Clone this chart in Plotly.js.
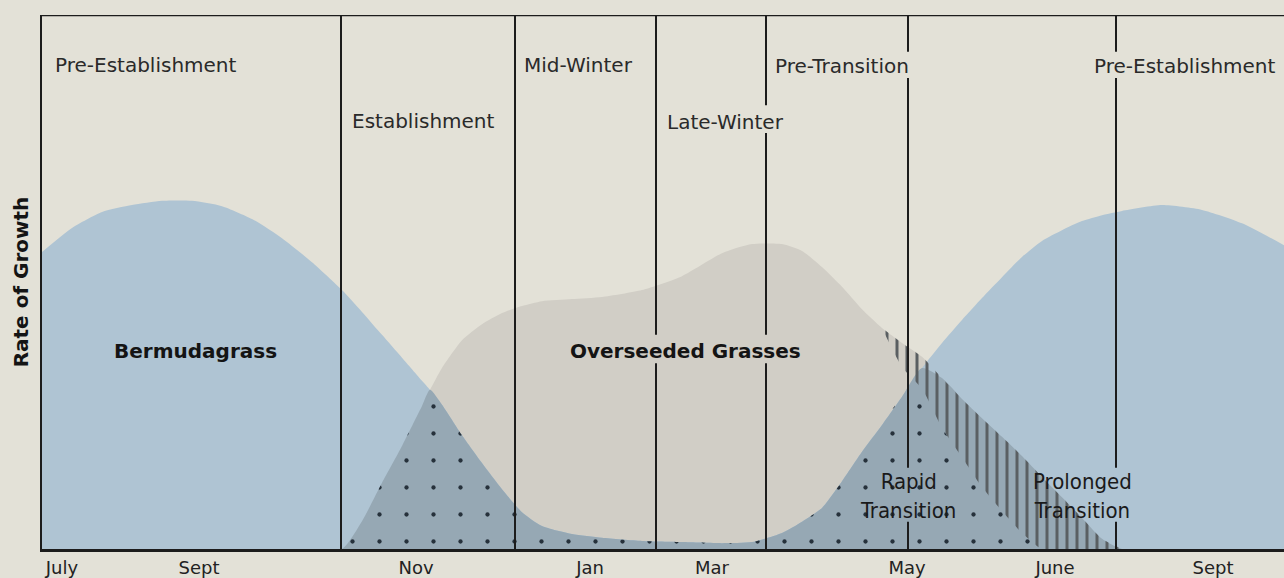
<!DOCTYPE html>
<html>
<head>
<meta charset="utf-8">
<script src="https://cdn.plot.ly/plotly-3.0.1.min.js"></script>
<style>html,body{margin:0;padding:0;background:#e3e1d7;}#chart{width:1284px;height:578px;}</style>
</head>
<body>
<div id="chart"></div>
<script>
// ---- data (x in weeks from early July; y = relative rate of growth) ----
const weeks = [0,1.5,3,4.5,6,7.5,9,10.5,12,13.5,15,16,17,18,19,19.4,20,21,22,23,24,25,26.5,28,30,32,34,35.5,37,38,39,40,41,42,43,44,45,46,47,48,49,50,51,52,53,54,56,58,60,62.1];
const bermudagrass = [55.6,60.1,63.1,64.4,65.2,65.2,64.2,61.8,58.2,53.7,48.5,44.4,40.1,35.8,31.5,29.8,27.0,21.3,16.1,11.2,6.9,4.3,2.8,2.1,1.5,1.3,1.1,1.3,3.0,5.1,7.7,12.7,18.2,23.2,28.5,33.9,38.6,42.9,47.0,50.9,54.7,57.7,59.7,61.4,62.5,63.3,64.4,63.5,61.0,56.9];
const overseededProlonged = [0,0,0,0,0,0,0,0,0,0,0,5.2,12.4,19.3,26.8,29.8,33.9,39.1,42.1,44.2,45.5,46.4,46.8,47.2,48.5,51.1,55.4,57.1,57.1,55.8,52.8,49.1,44.9,41.4,38.6,36.0,32.0,28.1,24.5,21.0,17.4,13.5,9.7,5.8,1.9,0,0,0,0,0];
const rapidWeeks = [42,43,44,45,46,47,48,49,50,51,52,53,54];
const rapidTail = [41.4,34.1,30.0,22.7,17.2,11.6,7.1,3.0,0,0,0,0,0];

const tickWeeks = [1.0,7.85,18.7,27.4,33.5,43.25,50.65,58.55];
const tickNames = ['July','Sept','Nov','Jan','Mar','May','June','Sept'];

const phaseBounds = [14.95,23.65,30.7,36.2,43.3,53.7];
const phaseGaps = [[],[],[[34.8,40.1]],[[34.8,40.1],[77.9,83.1]],[[5.1,15.2],[88.2,93.1]],[[5.1,15.2],[88.2,93.1]]];

const phaseNames = ['Pre-Establishment','Establishment','Mid-Winter','Late-Winter','Pre-Transition','Pre-Establishment'];
const phaseNameX = [0.55,15.4,24.0,31.15,36.55,52.5];
const phaseNameY = [90.6,80.1,90.6,80.0,90.4,90.4];

// ---- styles ----
const BG = '#e3e1d7', BLUE = '#afc4d3', GRAY = '#d1cec6', OVER = '#96a8b4', INK = '#1c1c1c';
const SANS = 'DejaVu Sans, Liberation Sans, Arial, sans-serif';

// derived series
const rapidScenario = weeks.map((w,i) => { const k = rapidWeeks.indexOf(w); return k >= 0 ? rapidTail[k] : overseededProlonged[i]; });
const overlap = weeks.map((w,i) => Math.min(bermudagrass[i], overseededProlonged[i]));
const dotted = weeks.map((w,i) => Math.min(bermudagrass[i], rapidScenario[i]));
const tailIdx = weeks.map((w,i) => i).filter(i => weeks[i] >= rapidWeeks[0] && weeks[i] <= rapidWeeks[rapidWeeks.length-1]);

const sp = {shape:'spline', smoothing:0.6, width:0};
const traces = [
  {x:weeks, y:overseededProlonged, mode:'lines', fill:'tozeroy', fillcolor:GRAY, line:Object.assign({color:GRAY},sp), hoverinfo:'skip', name:'Overseeded Grasses'},
  {x:weeks, y:bermudagrass, mode:'lines', fill:'tozeroy', fillcolor:BLUE, line:Object.assign({color:BLUE},sp), hoverinfo:'skip', name:'Bermudagrass'},
  {x:weeks, y:overlap, mode:'lines', fill:'tozeroy', fillcolor:OVER, line:Object.assign({color:OVER},sp), hoverinfo:'skip', name:'overlap'},
  {x:weeks, y:dotted, mode:'lines', fill:'tozeroy', fillcolor:'rgba(0,0,0,0)', line:Object.assign({color:'rgba(0,0,0,0)'},sp), hoverinfo:'skip', name:'Rapid Transition',
   fillpattern:{shape:'.', size:27, solidity:0.02, fgcolor:'#26313b', bgcolor:'rgba(0,0,0,0)'}},
  {x:rapidWeeks, y:rapidTail, mode:'lines', line:Object.assign({color:'rgba(0,0,0,0)'},sp), hoverinfo:'skip', name:'rapid'},
  {x:tailIdx.map(i=>weeks[i]), y:tailIdx.map(i=>overseededProlonged[i]), mode:'lines', fill:'tonexty', fillcolor:'rgba(0,0,0,0)', line:Object.assign({color:'rgba(0,0,0,0)'},sp), hoverinfo:'skip', name:'Prolonged Transition',
   fillpattern:{shape:'|', size:10, solidity:0.3, fgcolor:'#5a5f62', bgcolor:'rgba(0,0,0,0)'}}
];

// vertical phase lines (split where labels cross them)
const shapes = [];
phaseBounds.forEach((xb, i) => {
  let y0 = 0;
  const gaps = phaseGaps[i].slice().sort((a,b)=>a[0]-b[0]);
  gaps.forEach(g => { shapes.push({type:'line', xref:'x', yref:'y', x0:xb, x1:xb, y0:y0, y1:g[0], line:{color:INK, width:2}, layer:'above'}); y0 = g[1]; });
  shapes.push({type:'line', xref:'x', yref:'y', x0:xb, x1:xb, y0:y0, y1:100, line:{color:INK, width:2}, layer:'above'});
});
shapes.push({type:'line', xref:'paper', yref:'y', x0:0, x1:1, y0:100, y1:100, line:{color:INK, width:2.5}, layer:'above'});

const labelFont = {family:SANS, size:20, color:'#2a2a2a'};
const annotations = phaseNames.map((t,i) => ({x:phaseNameX[i], y:phaseNameY[i], xref:'x', yref:'y', text:t, showarrow:false, xanchor:'left', yanchor:'middle', font:labelFont}));
const boldFont = {family:SANS, size:20, color:'#141414'};
annotations.push({x:7.65, y:37.1, xref:'x', yref:'y', text:'<b>Bermudagrass</b>', showarrow:false, xanchor:'center', yanchor:'middle', font:boldFont});
annotations.push({x:32.15, y:37.1, xref:'x', yref:'y', text:'<b>Overseeded Grasses</b>', showarrow:false, xanchor:'center', yanchor:'middle', font:boldFont});
const narrow = {family:'DejaVu Sans Condensed, Liberation Sans, Arial, sans-serif', size:22, color:'#1a1a1a'};
[['Rapid<br>Transition',43.3,10.0],['Prolonged<br>Transition',52.0,10.0]].forEach(a => {
  annotations.push({x:a[1], y:a[2], xref:'x', yref:'y', text:a[0], showarrow:false, xanchor:'center', yanchor:'middle', align:'center', font:narrow});
});

const layout = {
  width:1284, height:578,
  margin:{l:42, r:0, t:15, b:29},
  paper_bgcolor:BG, plot_bgcolor:BG,
  showlegend:false,
  xaxis:{range:[0,62.1], tickvals:tickWeeks, ticktext:tickNames, showgrid:false, zeroline:false,
         showline:true, linecolor:INK, linewidth:3, ticks:'', ticklabelstandoff:0,
         tickfont:{family:SANS, size:18, color:'#222'}, fixedrange:true},
  yaxis:{range:[0,100], showticklabels:false, showgrid:false, zeroline:false, showline:true, linecolor:INK, linewidth:2,
         title:{text:'<b>Rate of Growth</b>', standoff:6, font:{family:SANS, size:20, color:'#141414'}}, fixedrange:true},
  shapes:shapes,
  annotations:annotations
};

Plotly.newPlot('chart', traces, layout, {displayModeBar:false, staticPlot:true});
</script>
</body>
</html>
